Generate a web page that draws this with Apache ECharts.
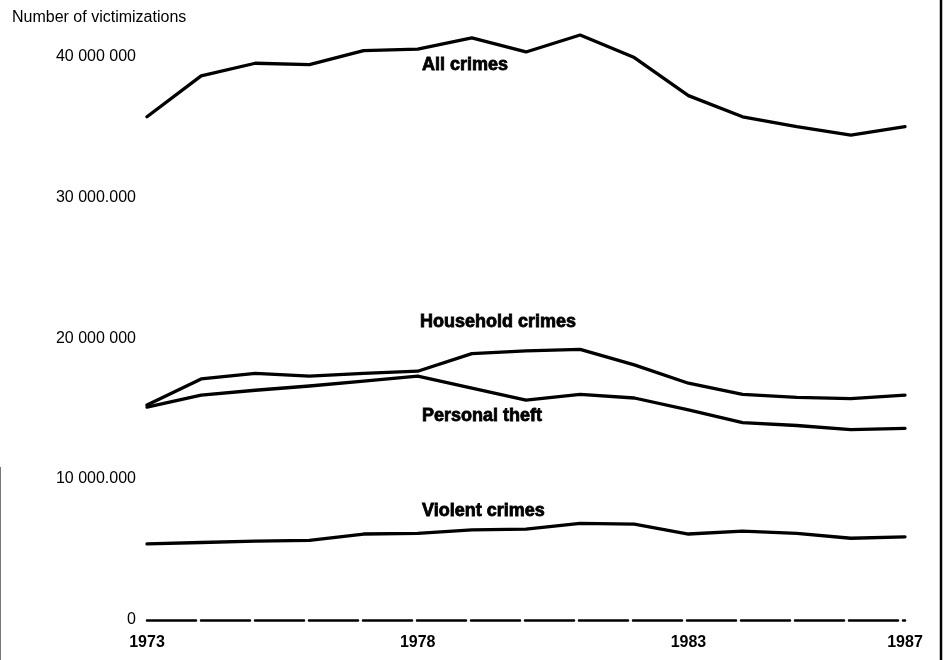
<!DOCTYPE html>
<html>
<head>
<meta charset="utf-8">
<script src="https://cdn.jsdelivr.net/npm/echarts@6/dist/echarts.min.js"></script>
<style>
html,body{margin:0;padding:0;background:#fff;}
#chart{width:944px;height:660px;}
</style>
</head>
<body>
<div id="chart"></div>
<script>
// Data (number of victimizations)
var years = ['1973','1974','1975','1976','1977','1978','1979','1980','1981','1982','1983','1984','1985','1986','1987'];
var shownYears = ['1973','1978','1983','1987'];
var allCrimes = [35700000,38600000,39500000,39400000,40400000,40500000,41300000,40300000,41500000,39900000,37200000,35700000,35000000,34400000,35000000];
var householdCrimes = [15250000,17100000,17500000,17300000,17500000,17650000,18900000,19100000,19200000,18100000,16800000,16000000,15800000,15700000,15950000];
var personalTheft = [15100000,15950000,16300000,16600000,16950000,17300000,16450000,15600000,16000000,15750000,14900000,14000000,13800000,13500000,13600000];
var violentCrimes = [5400000,5500000,5600000,5650000,6100000,6150000,6400000,6450000,6850000,6800000,6100000,6300000,6150000,5800000,5900000];
var yTickValues = [0,10000000,20000000,30000000,40000000];
var yTickLabels = ['0','10 000.000','20 000 000','30 000.000','40 000 000'];
var seriesNames = ['All crimes','Household crimes','Personal theft','Violent crimes'];

var font = '"Liberation Sans", Arial, Helvetica, sans-serif';
var chart = echarts.init(document.getElementById('chart'), null, {renderer:'canvas'});

function lineSeries(name, data){
  return {
    name: name, type: 'line', data: data,
    symbol: 'none', smooth: false, clip: false,
    lineStyle: {color:'#000', width:3.3, join:'round', cap:'round'},
    silent: true, animation: false
  };
}

function seriesLabel(text, x, y){
  return {type:'text', x:x, y:y, style:{text:text, fill:'#000', stroke:'#000', lineWidth:0.8,
    font:'bold 18px ' + font, textVerticalAlign:'middle'}};
}

var option = {
  backgroundColor: '#fff',
  animation: false,
  grid: {left:147, right:39, top:28, bottom:40, containLabel:false},
  xAxis: {
    type: 'category', data: years, boundaryGap: false,
    axisLine: {show:true, lineStyle:{color:'#000', width:2.5, type:[49,5]}},
    axisTick: {show:false},
    splitLine: {show:false},
    axisLabel: {
      interval: function(i, v){ return shownYears.indexOf(v) >= 0; },
      color:'#000', fontFamily: font, fontSize:16, fontWeight:'bold', margin:15
    }
  },
  yAxis: {
    type: 'value', min: 0, max: 42000000, interval: 10000000,
    axisLine: {show:false}, axisTick: {show:false}, splitLine: {show:false},
    axisLabel: {
      color:'#000', fontFamily: font, fontSize:16, margin:11,
      formatter: function(v){ var i = yTickValues.indexOf(v); return i >= 0 ? yTickLabels[i] : ''; }
    }
  },
  series: [
    lineSeries(seriesNames[0], allCrimes),
    lineSeries(seriesNames[1], householdCrimes),
    lineSeries(seriesNames[2], personalTheft),
    lineSeries(seriesNames[3], violentCrimes)
  ],
  graphic: [
    {type:'text', left:12, top:10, style:{text:'Number of victimizations', fill:'#000', font:'16px ' + font}},
    seriesLabel(seriesNames[0], 422, 65),
    seriesLabel(seriesNames[1], 420, 322),
    seriesLabel(seriesNames[2], 422, 416),
    seriesLabel(seriesNames[3], 422, 511),
    {type:'line', shape:{x1:941, y1:0, x2:941, y2:660}, style:{stroke:'#000', lineWidth:2.5}},
    {type:'line', shape:{x1:0.5, y1:467, x2:0.5, y2:660}, style:{stroke:'#777', lineWidth:1}}
  ]
};
chart.setOption(option);
</script>
</body>
</html>
